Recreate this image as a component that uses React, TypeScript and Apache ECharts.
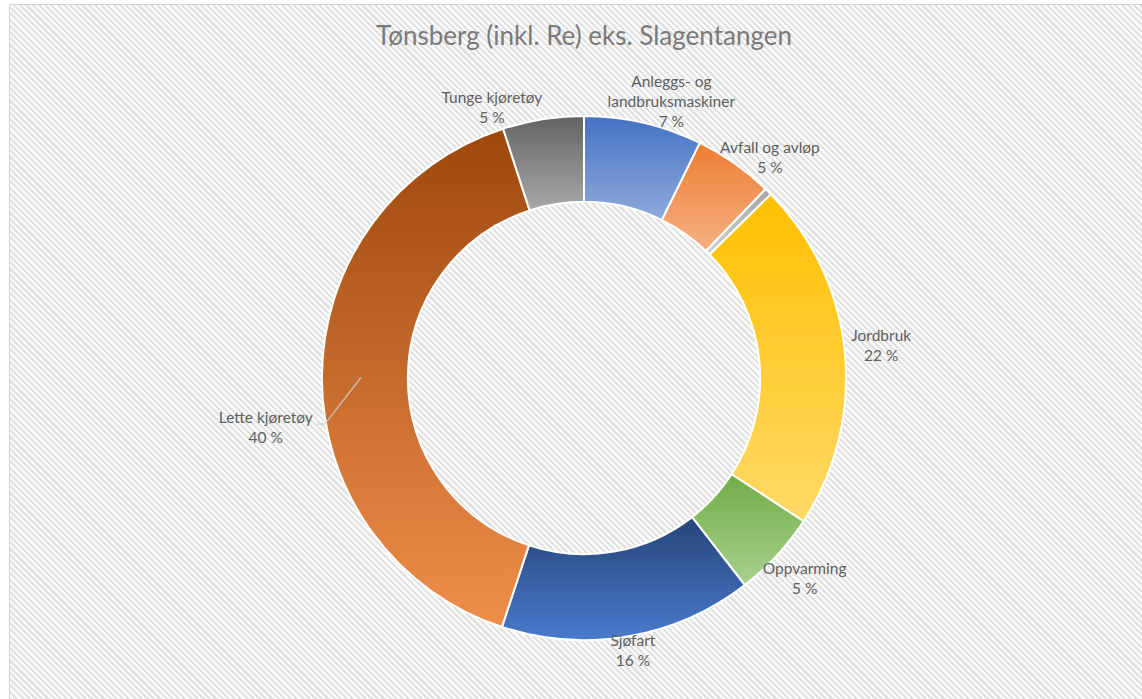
import React, { useEffect, useRef } from 'react';
import * as echarts from 'echarts';

const chartTitle = 'Tønsberg (inkl. Re) eks. Slagentangen';
const categories = [
  'Anleggs- og\nlandbruksmaskiner',
  'Avfall og avløp',
  'Annet',
  'Jordbruk',
  'Oppvarming',
  'Sjøfart',
  'Lette kjøretøy',
  'Tunge kjøretøy',
];
const shares = [7.3, 4.9, 0.45, 21.6, 5.3, 15.6, 40.0, 5.0];
const showLabel = [true, true, false, true, true, true, true, true];

// styling (not data)
const gradientTop = ['#4472C4', '#ED7D31', '#A5A5A5', '#FFC000', '#70AD47', '#264478', '#9E480E', '#636363'];
const gradientBottom = ['#8FAADC', '#F4B183', '#D0D0D0', '#FFD966', '#A9D18E', '#4A7BCD', '#EF8E4B', '#A9A9A9'];
const labelAngleShift = [4.4, 5.0, 0, -0.6, -0.4, -0.4, -8.9, -9.8];
const labelRadius = [290, 289, 0, 299, 298, 276, 322, 286];
const leaderIndex = 6;

const CENTER_X = 0.5114;
const CENTER_Y = 0.5408;

export default function App() {
  const ref = useRef<HTMLDivElement>(null);

  useEffect(() => {
    if (!ref.current) return;
    const chart = echarts.init(ref.current, undefined, { renderer: 'svg' });
    const total = shares.reduce((a, b) => a + b, 0);
    const cum: number[] = [];
    let acc = 0;
    shares.forEach((v) => {
      cum.push(acc);
      acc += v;
    });

    let leaderPoints: number[][] | null = null;

    const labelLayout = (params: any) => {
      const i = params.dataIndex;
      const cx = chart.getWidth() * CENTER_X;
      const cy = chart.getHeight() * CENTER_Y;
      const midDeg = ((cum[i] + shares[i] / 2) / total) * 360;
      const deg = midDeg + labelAngleShift[i];
      const rad = (deg * Math.PI) / 180;
      const R = labelRadius[i];
      const x = cx + R * Math.sin(rad);
      const y = cy - R * Math.cos(rad);
      if (i === leaderIndex) {
        const w = params.labelRect ? params.labelRect.width : 90;
        const mrad = (midDeg * Math.PI) / 180;
        const rStart = 223;
        const sx = cx + rStart * Math.sin(mrad);
        const sy = cy - rStart * Math.cos(mrad);
        leaderPoints = [
          [sx, sy],
          [x + w / 2 + 12, y - 3],
          [x + w / 2 + 4, y - 3],
        ];
      }
      return { x, y, align: 'center', verticalAlign: 'middle' };
    };

    const data = categories.map((name, i) => ({
      name,
      value: shares[i],
      itemStyle: {
        color: new echarts.graphic.LinearGradient(0, 0, 0, 1, [
          { offset: 0, color: gradientTop[i] },
          { offset: 1, color: gradientBottom[i] },
        ]),
      },
      label: { show: showLabel[i] },
    }));

    chart.setOption({
      animation: false,
      backgroundColor: 'transparent',
      title: {
        text: chartTitle,
        left: 579,
        top: 17,
        textAlign: 'center',
        textStyle: {
          fontFamily: 'Lato',
          fontSize: 26,
          fontWeight: 'normal',
          color: '#7a7a7a',
        },
      },
      series: [
        {
          type: 'pie',
          center: [CENTER_X * 100 + '%', CENTER_Y * 100 + '%'],
          radius: ['50.4%', '75%'],
          startAngle: 90,
          clockwise: true,
          avoidLabelOverlap: false,
          itemStyle: { borderColor: '#ffffff', borderWidth: 2 },
          label: {
            show: true,
            position: 'outside',
            fontFamily: 'Lato',
            fontSize: 15.5,
            lineHeight: 20,
            color: '#5f5f5f',
            formatter: (p: any) => `${p.name}\n${Math.round(p.percent)} %`,
          },
          labelLine: { show: false },
          labelLayout,
          emphasis: { disabled: true },
          data,
        },
      ],
    });

    if (leaderPoints) {
      chart.setOption({
        graphic: [
          {
            type: 'polyline',
            z: 100,
            silent: true,
            shape: { points: leaderPoints },
            style: { stroke: 'rgba(205,205,205,0.8)', lineWidth: 1.5, fill: null },
          },
        ],
      });
    }
    return () => chart.dispose();
  }, []);

  return (
    <div
      style={{
        position: 'absolute',
        left: 0,
        top: 0,
        width: 1142,
        height: 699,
        background: '#ffffff',
        overflow: 'hidden',
      }}
    >
      <div
        style={{
          position: 'absolute',
          left: 9,
          top: 4,
          width: 1150,
          height: 710,
          border: '1px solid #d4d4d4',
          background:
            'repeating-linear-gradient(45deg, #fbfbfb 0px, #fbfbfb 2.2px, #e2e2e2 2.2px, #e2e2e2 4.4px)',
        }}
      />
      <div ref={ref} style={{ position: 'absolute', left: 0, top: 0, width: 1142, height: 699 }} />
    </div>
  );
}
